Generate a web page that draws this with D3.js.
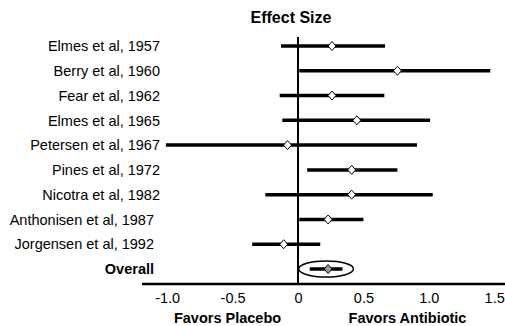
<!DOCTYPE html>
<html>
<head>
<meta charset="utf-8">
<script src="https://cdn.jsdelivr.net/npm/d3@7"></script>
<style>
  html, body { margin: 0; padding: 0; background: #fff; }
  svg { display: block; font-family: "Liberation Sans", Arial, sans-serif; }
</style>
</head>
<body>
<svg id="chart" width="505" height="326"></svg>
<script>
// ---- data ----
const studies = ["Elmes et al, 1957", "Berry et al, 1960", "Fear et al, 1962", "Elmes et al, 1965",
  "Petersen et al, 1967", "Pines et al, 1972", "Nicotra et al, 1982", "Anthonisen et al, 1987",
  "Jorgensen et al, 1992", "Overall"];
const effect = [0.26, 0.76, 0.26, 0.45, -0.08, 0.41, 0.41, 0.23, -0.11, 0.23];
const lower  = [-0.13, 0.01, -0.14, -0.12, -1.01, 0.07, -0.25, 0.01, -0.35, 0.09];
const upper  = [0.665, 1.47, 0.66, 1.01, 0.91, 0.76, 1.03, 0.50, 0.17, 0.34];
const xTicks = [-1.0, -0.5, 0, 0.5, 1.0, 1.5];
const title = "Effect Size";
const leftLabel = "Favors Placebo";
const rightLabel = "Favors Antibiotic";

const rows = studies.map((s, i) => ({ name: s, est: effect[i], lo: lower[i], hi: upper[i], i }));

const svg = d3.select("#chart");
const x = d3.scaleLinear().domain([-1, 1.5]).range([167.2, 494.2]);
const y = d3.scalePoint().domain(studies).range([46, 269]);
const axisY = 284;

// title
svg.append("text").attr("x", 291).attr("y", 23).attr("text-anchor", "middle")
  .attr("font-size", 16).attr("font-weight", "bold").attr("fill", "#000").text(title);

// zero line
svg.append("line").attr("x1", x(0)).attr("x2", x(0)).attr("y1", 37).attr("y2", axisY)
  .attr("stroke", "#000").attr("stroke-width", 2);

// axis
const axis = d3.axisBottom(x).tickValues(xTicks).tickSize(0).tickPadding(9)
  .tickFormat(d => d === 0 ? "0" : d3.format(".1f")(d).replace("−", "-"));
const gAxis = svg.append("g").attr("transform", `translate(0,${axisY})`).call(axis);
gAxis.select(".domain").remove();
gAxis.selectAll("text").attr("font-size", 14.5).attr("font-family", "Liberation Sans, Arial, sans-serif").attr("fill", "#000");
svg.append("line").attr("x1", 142).attr("x2", 505).attr("y1", axisY).attr("y2", axisY)
  .attr("stroke", "#000").attr("stroke-width", 2.5);

// study labels
svg.append("g").selectAll("text").data(rows).join("text")
  .attr("x", d => d.i >= 7 ? 154 : 160)
  .attr("y", d => y(d.name))
  .attr("dy", "0.36em")
  .attr("text-anchor", "end")
  .attr("font-size", 14.5)
  .attr("font-weight", d => d.name === "Overall" ? "bold" : "normal")
  .attr("fill", "#000")
  .text(d => d.name);

// ellipse around overall
const ov = rows[rows.length - 1];
svg.append("ellipse")
  .attr("cx", (x(ov.lo) + x(ov.hi)) / 2)
  .attr("cy", y(ov.name))
  .attr("rx", (x(ov.hi) - x(ov.lo)) / 2 + 11)
  .attr("ry", 8)
  .attr("fill", "none").attr("stroke", "#000").attr("stroke-width", 1.5);

// CI bars
svg.append("g").selectAll("line").data(rows).join("line")
  .attr("x1", d => x(d.lo)).attr("x2", d => x(d.hi))
  .attr("y1", d => y(d.name)).attr("y2", d => y(d.name))
  .attr("stroke", "#000").attr("stroke-width", 3.5);

// diamonds
const diamond = "M0,-4.5L4,0L0,4.5L-4,0Z";
svg.append("g").selectAll("path").data(rows).join("path")
  .attr("d", diamond)
  .attr("transform", d => `translate(${x(d.est)},${y(d.name)})`)
  .attr("fill", d => d.name === "Overall" ? "#9a9a9a" : "#fff")
  .attr("stroke", "#000").attr("stroke-width", 1);

// bottom labels
svg.append("text").attr("x", 227.5).attr("y", 323).attr("text-anchor", "middle")
  .attr("font-size", 14.5).attr("font-weight", "bold").attr("fill", "#000").text(leftLabel);
svg.append("text").attr("x", 407.5).attr("y", 323).attr("text-anchor", "middle")
  .attr("font-size", 14.5).attr("font-weight", "bold").attr("fill", "#000").text(rightLabel);
</script>
</body>
</html>
